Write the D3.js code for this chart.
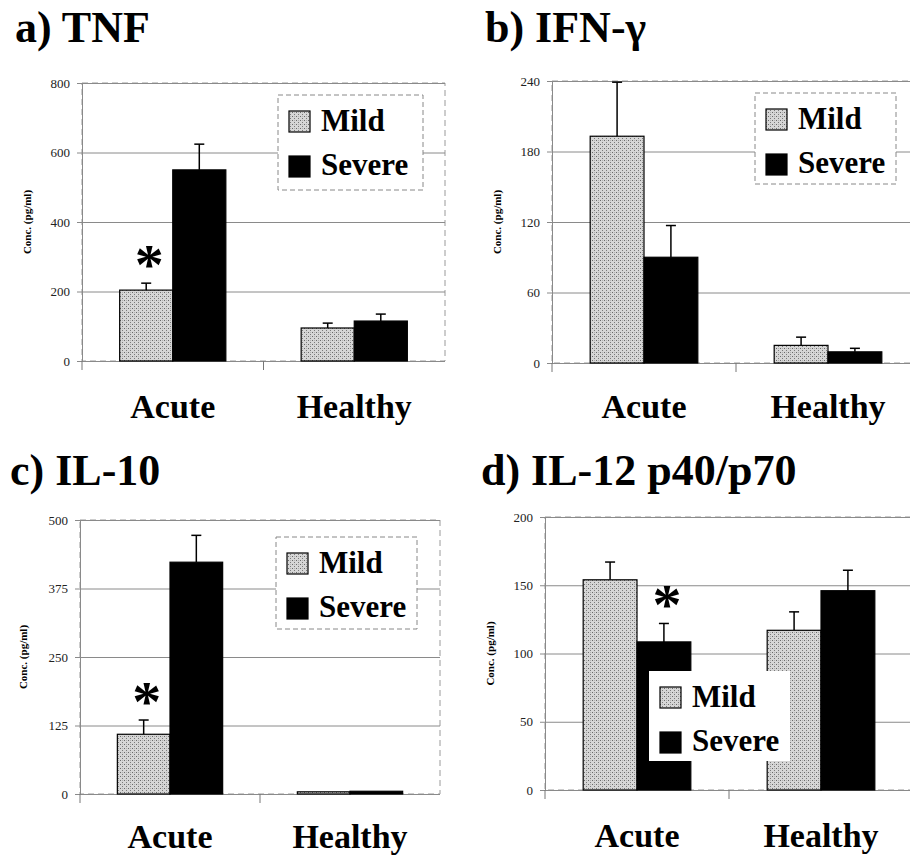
<!DOCTYPE html>
<html>
<head>
<script src="https://d3js.org/d3.v7.min.js"></script>
<style>
  body { margin: 0; background: #fff; }
</style>
</head>
<body>
<script>
var categories = ["Acute", "Healthy"];
var series = ["Mild", "Severe"];

// TNF
var tnfMild = [204, 95],    tnfMildErr = [20, 14];
var tnfSevere = [550, 115], tnfSevereErr = [74, 20];
var tnfTicks = [0, 200, 400, 600, 800];
// IFN-gamma
var ifnMild = [193, 15],    ifnMildErr = [46, 7];
var ifnSevere = [90, 9.5],  ifnSevereErr = [27, 3];
var ifnTicks = [0, 60, 120, 180, 240];
// IL-10
var il10Mild = [109, 4],    il10MildErr = [26, 0];
var il10Severe = [423, 5],  il10SevereErr = [49, 0];
var il10Ticks = [0, 125, 250, 375, 500];
// IL-12 p40/p70
var il12Mild = [154, 117],   il12MildErr = [13, 13.5];
var il12Severe = [108.5, 146], il12SevereErr = [13.5, 15];
var il12Ticks = [0, 50, 100, 150, 200];

var panels = [
  { title: "a) TNF", mild: tnfMild, mErr: tnfMildErr, sev: tnfSevere, sErr: tnfSevereErr, ticks: tnfTicks,
    left: 82, right: 445, y0: 361, y1: 83, tx: 15, ty: 42, xly: 418, ytx: 27,
    leg: [278, 95, 145, 95], legBorder: true, star: 0 },
  { title: "b) IFN-\u03B3", mild: ifnMild, mErr: ifnMildErr, sev: ifnSevere, sErr: ifnSevereErr, ticks: ifnTicks,
    left: 552, right: 920, y0: 363, y1: 81, tx: 485, ty: 42, xly: 418, ytx: 497,
    leg: [755, 93, 141, 91], legBorder: true, star: null },
  { title: "c) IL-10", mild: il10Mild, mErr: il10MildErr, sev: il10Severe, sErr: il10SevereErr, ticks: il10Ticks,
    left: 80, right: 440, y0: 794, y1: 520, tx: 10, ty: 485, xly: 848, ytx: 23,
    leg: [276, 537, 141, 92], legBorder: true, star: 0 },
  { title: "d) IL-12 p40/p70", mild: il12Mild, mErr: il12MildErr, sev: il12Severe, sErr: il12SevereErr, ticks: il12Ticks,
    left: 545, right: 913, y0: 790, y1: 517, tx: 481, ty: 485, xly: 847, ytx: 490,
    leg: [649, 671, 141, 90], legBorder: false, star: 1 }
];

var svg = d3.select("body").append("svg")
    .attr("width", 910)
    .attr("height", 859);

// stippled grey fill for "Mild"
var pat = svg.append("defs").append("pattern")
    .attr("id", "stip")
    .attr("patternUnits", "userSpaceOnUse")
    .attr("width", 4).attr("height", 4);
pat.append("rect").attr("width", 4).attr("height", 4).attr("fill", "#d6d6d6");
pat.append("rect").attr("x", 0).attr("y", 0).attr("width", 1).attr("height", 1).attr("fill", "#6a6a6a");
pat.append("rect").attr("x", 2).attr("y", 2).attr("width", 1).attr("height", 1).attr("fill", "#7a7a7a");
pat.append("rect").attr("x", 2).attr("y", 0).attr("width", 1).attr("height", 1).attr("fill", "#b0b0b0");

var fills = { Mild: "url(#stip)", Severe: "#000" };

// all text goes into its own top-level layer
var marks = svg.append("g");
var labels = [];

function label(x, y, s, size, bold, anchor, rot) {
  labels.push({ x: x, y: y, s: s, size: size, bold: bold, anchor: anchor || "start", rot: rot || 0 });
}

panels.forEach(function(p) {
  var g = marks.append("g");
  var top = p.ticks[p.ticks.length - 1];

  var y = d3.scaleLinear().domain([0, top]).range([p.y0, p.y1]);
  var x = d3.scaleBand().domain(categories).range([p.left, p.right]);
  var bw = x.bandwidth() * 0.585;
  var xs = d3.scaleBand().domain(series).range([0, bw]);

  // dashed plot frame
  g.append("rect")
    .attr("x", p.left).attr("y", y(top))
    .attr("width", p.right - p.left).attr("height", p.y0 - y(top))
    .attr("fill", "none").attr("stroke", "#9a9a9a").attr("stroke-dasharray", "6 4");

  // grid + y axis (tick labels are drawn in the text layer)
  var ax = g.append("g")
    .attr("transform", "translate(" + p.left + ",0)")
    .call(d3.axisLeft(y).tickValues(p.ticks).tickSize(-(p.right - p.left)).tickFormat(""));
  ax.select(".domain").attr("stroke", "#8a8a8a");
  ax.selectAll(".tick line").attr("x1", -5).attr("stroke", "#8a8a8a");
  p.ticks.forEach(function(t) { label(p.left - 12, y(t) + 4.5, String(t), 13, false, "end"); });

  // small category ticks under the baseline
  g.selectAll(".ctick").data([p.left, x(categories[1])]).enter().append("line")
    .attr("x1", function(d) { return d; }).attr("x2", function(d) { return d; })
    .attr("y1", p.y0).attr("y2", p.y0 + 9)
    .attr("stroke", "#777");

  var data = [];
  categories.forEach(function(c, i) {
    data.push({ cat: c, s: "Mild", v: p.mild[i], e: p.mErr[i] });
    data.push({ cat: c, s: "Severe", v: p.sev[i], e: p.sErr[i] });
  });
  function bx(d) { return x(d.cat) + (x.bandwidth() - bw) / 2 + xs(d.s); }
  function cx(d) { return bx(d) + xs.bandwidth() / 2; }

  // error bars
  var eb = data.filter(function(d) { return d.e > 0; });
  g.selectAll(".err").data(eb).enter().append("line")
    .attr("x1", cx).attr("x2", cx)
    .attr("y1", function(d) { return y(d.v); })
    .attr("y2", function(d) { return y(d.v + d.e); })
    .attr("stroke", "#000").attr("stroke-width", 1.5);
  g.selectAll(".cap").data(eb).enter().append("line")
    .attr("x1", function(d) { return cx(d) - 5; })
    .attr("x2", function(d) { return cx(d) + 5; })
    .attr("y1", function(d) { return y(d.v + d.e); })
    .attr("y2", function(d) { return y(d.v + d.e); })
    .attr("stroke", "#000").attr("stroke-width", 1.5);

  // bars
  g.selectAll(".bar").data(data).enter().append("rect")
    .attr("x", bx)
    .attr("y", function(d) { return y(d.v); })
    .attr("width", xs.bandwidth())
    .attr("height", function(d) { return p.y0 - y(d.v); })
    .attr("fill", function(d) { return fills[d.s]; })
    .attr("stroke", "#000").attr("stroke-width", 1.2);

  // significance star
  if (p.star !== null) {
    var sd = data[p.star];
    label(cx(sd) + 3, y(sd.v + sd.e) + 1, "*", 58, true, "middle");
  }

  // legend
  var L = p.leg;
  g.append("rect").attr("x", L[0]).attr("y", L[1]).attr("width", L[2]).attr("height", L[3])
    .attr("fill", "#fff")
    .attr("stroke", p.legBorder ? "#888" : "none")
    .attr("stroke-dasharray", "5 3");
  series.forEach(function(s, i) {
    var yy = L[1] + 16 + i * 45;
    g.append("rect").attr("x", L[0] + 11).attr("y", yy).attr("width", 21).attr("height", 21)
      .attr("fill", fills[s]).attr("stroke", "#000").attr("stroke-width", 1.2);
    label(L[0] + 43, yy + 20 - i, s, 31, true);
  });

  // category labels
  categories.forEach(function(c) {
    label(x(c) + x.bandwidth() / 2, p.xly, c, 34, true, "middle");
  });

  // y title
  label(p.ytx + 4, (p.y0 + y(top)) / 2, "Conc. (pg/ml)", 11, true, "middle", -90);

  // panel title
  label(p.tx, p.ty, p.title, 44, true);
});

svg.selectAll("text.lbl").data(labels).enter().append("text")
  .attr("class", "lbl")
  .attr("x", function(d) { return d.rot ? 0 : d.x; })
  .attr("y", function(d) { return d.rot ? 0 : d.y; })
  .attr("transform", function(d) { return d.rot ? "translate(" + d.x + "," + d.y + ") rotate(" + d.rot + ")" : null; })
  .attr("text-anchor", function(d) { return d.anchor; })
  .style("font-family", "'Liberation Serif'")
  .style("font-size", function(d) { return d.size + "px"; })
  .style("font-weight", function(d) { return d.bold ? "bold" : "normal"; })
  .attr("fill", function(d) { return d.size === 13 ? "#222" : "#000"; })
  .text(function(d) { return d.s; });
</script>
</body>
</html>
